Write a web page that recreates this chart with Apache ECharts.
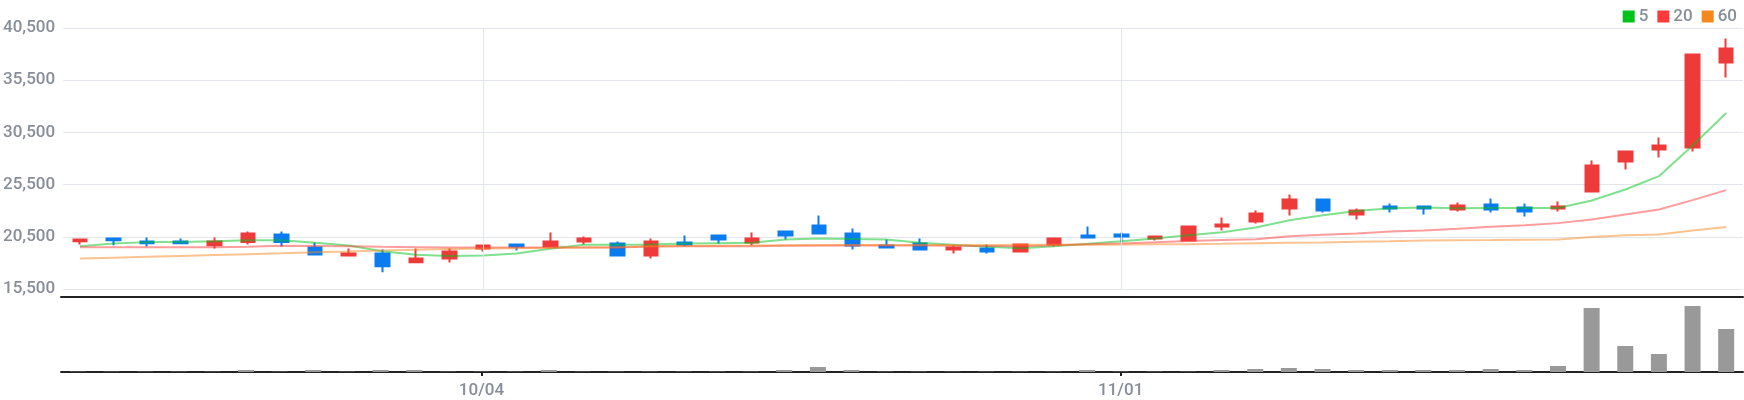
<!DOCTYPE html>
<html>
<head>
<meta charset="utf-8">
<script src="https://cdn.jsdelivr.net/npm/echarts@6/dist/echarts.min.js"></script>
<style>
html,body{margin:0;padding:0;background:#fff;}
#chart{width:1744px;height:400px;}
</style>
</head>
<body>
<div id="chart"></div>
<script>
const dates = ['09/12','09/13','09/14','09/15','09/18','09/19','09/20','09/21','09/22','09/25',
  '09/26','09/27','10/04','10/05','10/06','10/10','10/11','10/12','10/13','10/16',
  '10/17','10/18','10/19','10/20','10/23','10/24','10/25','10/26','10/27','10/30',
  '10/31','11/01','11/02','11/03','11/06','11/07','11/08','11/09','11/10','11/13',
  '11/14','11/15','11/16','11/17','11/20','11/21','11/22','11/23','11/24','11/27'];
const tickLabels = ['10/04','11/01'];
const opens  = [20080,20340,20050,20050,19700,19990,20720,19480,18710,18900,
  18070,18420,19380,19760,19570,20050,19860,18710,19950,20620,
  19950,21010,21580,20820,19670,19860,19280,19380,19090,19760,
  20620,20720,20340,20150,21490,21970,23210,24070,22640,23400,
  23400,23120,23600,23310,23210,24840,27720,28860,29060,37200];
const closes = [20240,20180,19890,19890,20050,20820,19990,18810,18900,17690,
  18420,19090,19670,19570,20050,20340,18710,20050,19760,20240,
  20340,20620,20820,19670,19480,19280,19480,19090,19760,20340,
  20430,20530,20530,21490,21680,22730,24070,23020,23020,23210,
  23210,23500,23120,22930,23400,27330,28670,29250,37960,38540];
const lows   = [19760,19700,19570,19890,19380,19760,19570,18710,18610,17110,
  18070,18040,19090,19190,19570,19760,18610,18420,19570,19860,
  19670,20240,20820,19280,19380,19190,18900,18900,19090,19570,
  20340,19950,20150,20050,21100,21780,22540,22830,22160,22830,
  22640,22920,22830,22450,22930,24750,26950,28100,28670,35760];
const highs  = [20240,20340,20430,20340,20430,21010,21010,19950,19380,19280,
  19380,19380,19760,19860,20910,20530,20050,20340,20620,20620,
  20910,21010,22540,21300,20240,20340,19670,19760,19860,20340,
  21490,20910,20620,21490,22350,23020,24550,24070,23210,23690,
  23400,23790,24170,23690,23880,27810,28770,30010,37960,39500];
const ma5  = [19600,19860,19990,19990,20080,20180,20180,19920,19670,19120,
  18770,18650,18710,18900,19350,19730,19730,19760,19860,19890,
  19920,20240,20340,20300,20240,19920,19730,19540,19410,19600,
  19830,20080,20340,20660,20940,21390,22090,22570,22960,23240,
  23310,23240,23250,23250,23250,23980,25030,26310,29250,32350];
const ma20 = [19510,19510,19510,19510,19510,19540,19650,19620,19600,19540,
  19510,19480,19480,19480,19480,19480,19480,19580,19600,19600,
  19600,19640,19670,19670,19670,19670,19640,19630,19600,19700,
  19780,19860,19970,20100,20200,20270,20560,20690,20820,21010,
  21100,21260,21460,21600,21810,22160,22640,23120,24010,24970];
const ma60 = [18420,18500,18590,18670,18760,18840,18920,19010,19090,19190,
  19250,19320,19380,19410,19440,19480,19510,19600,19620,19640,
  19660,19690,19700,19710,19710,19720,19720,19720,19730,19740,
  19750,19760,19780,19790,19830,19890,19920,19950,20020,20080,
  20150,20180,20190,20220,20240,20470,20660,20720,21110,21430];
const volumes = [30000,30000,30000,30000,30000,200000,30000,200000,30000,200000,
  200000,30000,30000,30000,200000,30000,30000,30000,30000,30000,
  30000,200000,500000,200000,30000,30000,30000,30000,30000,30000,
  200000,30000,30000,30000,200000,300000,400000,300000,200000,200000,
  200000,200000,300000,200000,600000,6400000,2600000,1800000,6600000,4300000];

const candleData = opens.map((o, i) => [o, closes[i], lows[i], highs[i]]);
const showTick = (i, v) => tickLabels.indexOf(v) >= 0;
const FONT = 'Roboto';
const TXT = '#878e99';

const chart = echarts.init(document.getElementById('chart'), null, {renderer: 'canvas'});
chart.setOption({
  animation: false,
  legend: {
    data: ['5', '20', '60'],
    icon: 'rect',
    right: 2, top: 3,
    itemWidth: 12, itemHeight: 12, itemGap: 9,
    textStyle: {color: TXT, fontSize: 17, fontWeight: 500, fontFamily: FONT, padding: [0, 0, 0, -1]},
    selectedMode: false
  },
  grid: [
    {left: 61, right: 1, top: 28, height: 261},
    {left: 61, right: 1, top: 297, height: 75}
  ],
  xAxis: [
    {type: 'category', gridIndex: 0, data: dates, boundaryGap: true,
     axisLine: {show: false}, axisTick: {show: false}, axisLabel: {show: false}, splitLine: {show: false}},
    {type: 'category', gridIndex: 1, data: dates, boundaryGap: true, position: 'bottom',
     axisLine: {show: true, lineStyle: {color: '#222', width: 2}},
     axisTick: {show: true, alignWithLabel: true, interval: showTick, length: 4, lineStyle: {color: '#222', width: 2}},
     axisLabel: {show: true, interval: showTick, color: TXT, fontSize: 17, fontWeight: 500, fontFamily: FONT, margin: 10},
     splitLine: {show: false}},
    {type: 'category', gridIndex: 1, data: dates, boundaryGap: true, position: 'top',
     axisLine: {show: true, lineStyle: {color: '#222', width: 2}},
     axisTick: {show: false}, axisLabel: {show: false}, splitLine: {show: false}}
  ],
  yAxis: [
    {type: 'value', gridIndex: 0, min: 15500, max: 40500, interval: 5000,
     axisLine: {show: false}, axisTick: {show: false},
     axisLabel: {color: TXT, fontSize: 17, fontWeight: 500, fontFamily: FONT, margin: 8,
       formatter: v => v.toLocaleString('en-US')},
     splitLine: {show: true, lineStyle: {color: '#e2e5ea', width: 1}}},
    {type: 'value', gridIndex: 1, min: 0, max: 7500000, show: false,
     splitLine: {show: false}}
  ],
  series: [
    {name: 'grid-v', type: 'line', xAxisIndex: 0, yAxisIndex: 0, data: [], z: 0, silent: true,
     markLine: {silent: true, symbol: 'none', label: {show: false},
       lineStyle: {color: '#e2e5ea', width: 1, type: 'solid'},
       data: tickLabels.map(t => ({xAxis: t}))}},
    {name: 'candle', type: 'candlestick', xAxisIndex: 0, yAxisIndex: 0, data: candleData,
     barWidth: 14, z: 3,
     itemStyle: {color: '#ef3a3a', color0: '#0b7cef', borderColor: '#ef3a3a', borderColor0: '#0b7cef', borderWidth: 2}},
    {name: '5', type: 'line', xAxisIndex: 0, yAxisIndex: 0, data: ma5, showSymbol: false, z: 4,
     color: '#00c21b', lineStyle: {width: 2, opacity: 0.5}},
    {name: '20', type: 'line', xAxisIndex: 0, yAxisIndex: 0, data: ma20, showSymbol: false, z: 4,
     color: '#ff3a3a', lineStyle: {width: 2, opacity: 0.5}},
    {name: '60', type: 'line', xAxisIndex: 0, yAxisIndex: 0, data: ma60, showSymbol: false, z: 4,
     color: '#f5871f', lineStyle: {width: 2, opacity: 0.5}},
    {name: 'volume', type: 'bar', xAxisIndex: 1, yAxisIndex: 1, data: volumes, barWidth: 16,
     itemStyle: {color: '#999999'}}
  ]
});
</script>
</body>
</html>
